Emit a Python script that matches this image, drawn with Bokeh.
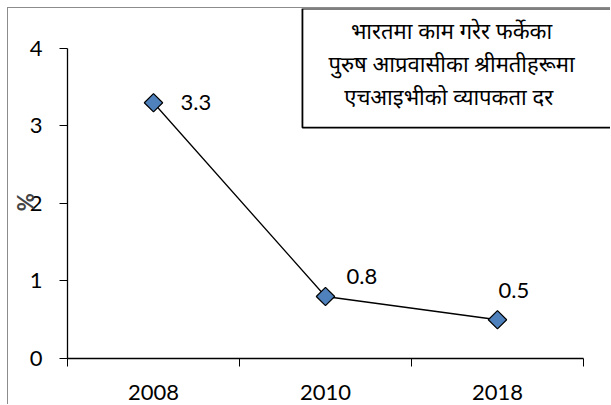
from bokeh.plotting import figure
from bokeh.models import (ColumnDataSource, Range1d, FixedTicker, BoxAnnotation, Label)
from bokeh.core.properties import value
from bokeh.embed import file_html
from bokeh.resources import INLINE

# ---- data ----
years = ["2008", "2010", "2018"]
prevalence = [3.3, 0.8, 0.5]
value_labels = ["3.3", "0.8", "0.5"]
y_ticks = [0, 1, 2, 3, 4]
title_lines = ["भारतमा काम गरेर फर्केका",
               "पुरुष आप्रवासीका श्रीमतीहरूमा",
               "एचआइभीको व्यापकता  दर"]
y_label = "%"

# label placement (style, not data)
label_dx = [27, 21, 1]
label_dy = [0, -20, -29]

xs = [i + 0.5 for i in range(len(years))]
src = ColumnDataSource(dict(x=xs, y=prevalence, lab=value_labels,
                            dx=label_dx, dy=label_dy))

FONT = "Lato"
FS = "22px"

p = figure(width=603, height=397, output_backend="svg", toolbar_location=None,
           x_range=Range1d(0, 3.163), y_range=Range1d(0, 4.516),
           min_border_left=59, min_border_right=0, min_border_top=0,
           min_border_bottom=47)
p.styles = {"margin-left": "7px", "margin-top": "7px",
            "border-left": "1px solid #8c8c8c", "border-top": "1px solid #8c8c8c"}
p.outline_line_color = None
p.xgrid.visible = False
p.ygrid.visible = False
p.background_fill_color = "white"
p.border_fill_color = "white"

# y axis
p.yaxis.ticker = FixedTicker(ticks=y_ticks)
p.yaxis.bounds = (0, 4)
p.yaxis.axis_line_color = "black"
p.yaxis.axis_line_width = 1.3
p.yaxis.major_tick_out = 8
p.yaxis.major_tick_in = 0
p.yaxis.major_tick_line_color = "black"
p.yaxis.minor_tick_line_color = None
p.yaxis.major_label_standoff = 17
p.yaxis.major_label_text_font = FONT
p.yaxis.major_label_text_font_size = FS
p.yaxis.major_label_text_color = "black"
# axis title; trailing no-break spaces push the "%" down next to the "2" tick
p.yaxis.axis_label = y_label + "\u00a0" * 7
p.yaxis.axis_label_text_font = FONT
p.yaxis.axis_label_text_font_style = "bold"
p.yaxis.axis_label_text_font_size = FS
p.yaxis.axis_label_standoff = -12

# x axis: labels at category centres, tick marks at category boundaries
p.xaxis.ticker = FixedTicker(ticks=xs, minor_ticks=list(range(len(years) + 1)))
p.xaxis.bounds = (0, len(years))
p.xaxis.major_label_overrides = {x: y for x, y in zip(xs, years)}
p.xaxis.axis_line_color = "black"
p.xaxis.axis_line_width = 1.3
p.xaxis.major_tick_out = 0
p.xaxis.major_tick_in = 0
p.xaxis.minor_tick_out = 8
p.xaxis.minor_tick_in = 0
p.xaxis.minor_tick_line_color = "black"
p.xaxis.major_label_standoff = 18
p.xaxis.major_label_text_font = FONT
p.xaxis.major_label_text_font_size = FS
p.xaxis.major_label_text_color = "black"

# series
p.line("x", "y", source=src, line_color="black", line_width=1.3)
p.scatter("x", "y", source=src, marker="square", size=13, angle=0.785398,
          fill_color="#4f81bd", line_color="black", line_width=1.2)
p.text("x", "y", text="lab", source=src, x_offset="dx", y_offset="dy",
       text_font=value(FONT), text_font_size=FS, text_color="black",
       text_align="left", text_baseline="middle")

# title box
box = BoxAnnotation(left=1.366, right=3.6, bottom=2.98, top=4.516,
                    fill_color="white", fill_alpha=1.0,
                    line_color="black", line_alpha=1.0, line_width=1.8)
p.add_layout(box)
p.add_layout(Label(x=2.233, y=3.815, text="\n".join(title_lines),
                   text_align="center", text_baseline="middle",
                   text_font="Noto Sans", text_font_size="22px",
                   text_line_height=1.11, text_color="black"))

open("out.html", "w").write(file_html(p, INLINE))
